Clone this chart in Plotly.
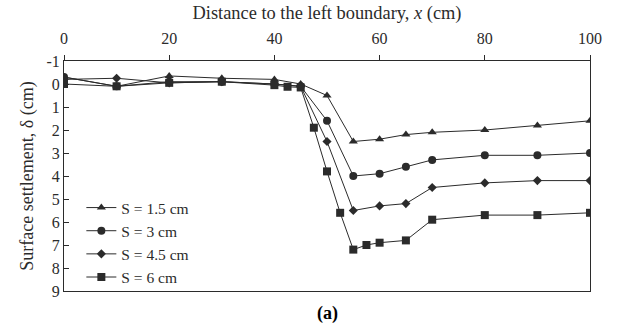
import plotly.graph_objects as go

# Distance to the left boundary (cm)
x_main = [0, 10, 20, 30, 40, 45, 50, 55, 60, 65, 70, 80, 90, 100]
x_s6 = [0, 10, 20, 30, 40, 42.5, 45, 47.5, 50, 52.5, 55, 57.5, 60, 65, 70, 80, 90, 100]

# Surface settlement (cm) for each support displacement S
s_15 = [-0.3, 0.1, -0.35, -0.25, -0.2, 0.0, 0.5, 2.5, 2.4, 2.2, 2.1, 2.0, 1.8, 1.6]
s_30 = [-0.3, 0.1, -0.1, -0.1, 0.0, 0.1, 1.6, 4.0, 3.9, 3.6, 3.3, 3.1, 3.1, 3.0]
s_45 = [-0.2, -0.25, -0.05, -0.1, 0.0, 0.1, 2.5, 5.5, 5.3, 5.2, 4.5, 4.3, 4.2, 4.2]
s_60 = [0.0, 0.1, -0.05, -0.1, 0.05, 0.12, 0.15, 1.9, 3.8, 5.6, 7.2, 7.0, 6.9, 6.8, 5.9, 5.7, 5.7, 5.6]

series_names = ["S = 1.5 cm", "S = 3 cm", "S = 4.5 cm", "S = 6 cm"]

x_ticks = [0, 20, 40, 60, 80, 100]
y_ticks = [-1, 0, 1, 2, 3, 4, 5, 6, 7, 8, 9]
y_tick_text = ["-1", "0", "1", "2", "3", "4", "5", "6", "7", "8", "9"]

INK = "#2b2b2b"
FONT = "Liberation Serif"

fig = go.Figure()
styles = [
    (x_main, s_15, "triangle-up", 8),
    (x_main, s_30, "circle", 8),
    (x_main, s_45, "diamond", 7),
    (x_s6, s_60, "square", 8),
]
for (xs, ys, sym, size), name in zip(styles, series_names):
    fig.add_trace(go.Scatter(
        x=xs, y=ys, mode="lines+markers", name=name,
        line=dict(color=INK, width=1),
        marker=dict(symbol=sym, size=size, color=INK),
    ))

fig.update_layout(
    width=618, height=331,
    margin=dict(l=64, r=28, t=58, b=40),
    plot_bgcolor="white", paper_bgcolor="white",
    font=dict(family=FONT, size=16, color=INK),
    showlegend=True,
    legend=dict(
        x=0.033, y=-0.013, xanchor="left", yanchor="bottom",
        bgcolor="rgba(0,0,0,0)", borderwidth=0,
        font=dict(family=FONT, size=15.5, color=INK),
        tracegroupgap=0, itemwidth=30,
    ),
    xaxis=dict(
        side="top", range=[0, 100], tickvals=x_ticks,
        showline=True, linecolor=INK, linewidth=1, mirror=True,
        ticks="outside", ticklen=5, tickcolor=INK, showgrid=False, zeroline=False,
        ticklabelstandoff=5,
        tickfont=dict(family=FONT, size=16, color=INK),
        title=dict(text="Distance to the left boundary, <i>x</i> (cm)",
                   font=dict(family=FONT, size=18.4, color=INK), standoff=5),
    ),
    yaxis=dict(
        range=[9, -1], tickvals=y_ticks, ticktext=y_tick_text,
        showline=True, linecolor=INK, linewidth=1, mirror=True,
        ticks="inside", ticklen=5, tickcolor=INK, showgrid=False, zeroline=False,
        tickfont=dict(family=FONT, size=16, color=INK),
        title=dict(text="Surface settlement, δ (cm)",
                   font=dict(family=FONT, size=18, color=INK), standoff=8),
    ),
    annotations=[dict(
        text="<b>(a)</b>", x=0.5, y=-0.045, xref="paper", yref="paper",
        xanchor="center", yanchor="top", showarrow=False,
        font=dict(family=FONT, size=18, color="black"),
    )],
)

fig.write_html("out.html")
